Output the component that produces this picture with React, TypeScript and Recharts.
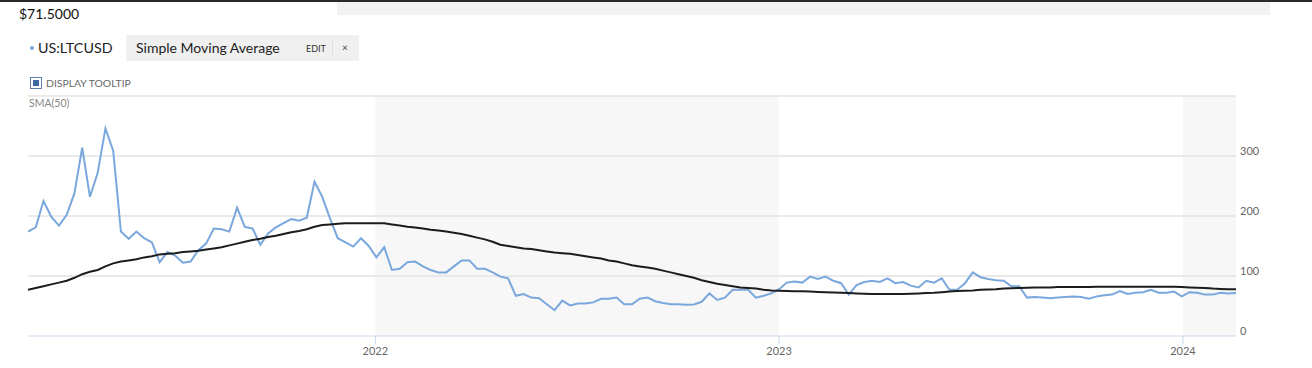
import { LineChart, Line, XAxis, YAxis, ReferenceArea, ReferenceLine } from 'recharts'

const FONT = 'Lato, "Open Sans", sans-serif'

// weekly closes, first week starting 2021-02-21
const START = Date.UTC(2021, 1, 21)
const WEEK = 7 * 24 * 3600 * 1000

const PRICE = [
  174, 181, 225, 199, 184, 202, 238, 314, 232, 272,
  346, 309, 174, 162, 174, 163, 156, 123, 140, 134,
  122, 124, 143, 154, 179, 178, 174, 214, 182, 179,
  152, 171, 181, 188, 195, 192, 197, 257, 232, 196,
  163, 156, 149, 163, 150, 131, 148, 110, 112, 123,
  124, 116, 110, 106, 106, 116, 126, 126, 112, 112,
  106, 99, 96, 67, 70, 64, 63, 53, 43, 59,
  51, 54, 54, 56, 62, 62, 64, 53, 53, 62,
  64, 58, 55, 53, 53, 52, 52.5, 57, 71, 60,
  64, 77, 77, 77, 64, 67, 71, 78, 89, 91,
  89, 99, 95, 99, 92, 88, 69, 85, 90, 92,
  90, 96, 88, 90, 84, 81, 92, 89, 96, 77,
  77, 88, 106, 98, 95, 93, 92, 83, 83, 64,
  65, 64, 63, 64, 65, 66, 65, 62, 66, 68,
  69, 75, 70, 72, 73, 77, 72, 72, 74, 66,
  73, 72, 69, 69, 72, 71, 71.5,
]

const SMA50 = [
  77, 80, 83, 86, 89, 92, 97, 103, 107, 110,
  116, 121, 124, 126, 128, 131, 133, 136, 137, 138,
  140, 141, 142, 144, 146, 148, 151, 154, 157, 160,
  162, 165, 167, 170, 173, 175, 178, 182, 185, 186,
  187, 188, 188, 188, 188, 188, 188, 186, 184, 182,
  181, 179, 177, 176, 174, 172, 170, 167, 164, 161,
  157, 152, 150, 148, 146, 145, 143, 141, 139, 138,
  137, 135, 133, 131, 129, 126, 124, 121, 118, 116,
  114, 112, 109, 106, 103, 100, 97, 93, 90, 87,
  85, 83, 81, 80, 79, 77, 76, 75.5, 75, 74.5,
  74.5, 74, 73.5, 73, 72.5, 72, 71.5, 71, 70.5, 70,
  70, 70, 70, 70, 70.5, 71, 71.5, 72, 73, 74,
  75, 75.5, 76, 77, 77.5, 78, 79, 79.5, 80, 80.5,
  81, 81, 81, 81.5, 81.5, 81.5, 81.5, 81.5, 82, 82,
  82, 82, 82, 82, 82, 82, 82, 82, 82, 81.5,
  81, 80.5, 80, 79, 78.5, 78, 78,
]

const YEARS = [2022, 2023, 2024]
const Y_TICKS = [0, 100, 200, 300, 400]
const GRID_LINES = [100, 200, 300, 400]

const data = PRICE.map((p, i) => ({ t: START + i * WEEK, price: p, sma: SMA50[i] }))
const END = data[data.length - 1].t
const yearStart = (y: number) => Date.UTC(y, 0, 1)

const YTick = (props: any) => {
  const { x, y, payload } = props
  if (payload.value === 400) return null
  return (
    <text x={x} y={y - 1.5} fill="#666" fontSize={11} fontFamily={FONT} textAnchor="start">
      {payload.value}
    </text>
  )
}

export default function App() {
  return (
    <div style={{ position: 'absolute', left: 0, top: 0, width: 1312, height: 368, background: '#fff', fontFamily: FONT }}>
      <div style={{ position: 'absolute', left: 0, top: 0, width: 1312, height: 2, background: '#2a2a2a' }} />
      <div style={{ position: 'absolute', left: 337, top: 2, width: 933, height: 13, background: '#f2f2f2' }} />
      <div style={{ position: 'absolute', left: 19, top: 5, fontSize: 14, color: '#111', lineHeight: '18px' }}>$71.5000</div>

      {/* legend */}
      <div style={{ position: 'absolute', left: 30, top: 46, width: 4, height: 4, borderRadius: 2, background: '#7aa7dc' }} />
      <div style={{ position: 'absolute', left: 38, top: 39, fontSize: 14.3, color: '#222', lineHeight: '18px' }}>US:LTCUSD</div>
      <div style={{ position: 'absolute', left: 126, top: 35, width: 233, height: 26, background: '#f0f0f0' }}>
        <div style={{ position: 'absolute', left: 10, top: 4, fontSize: 14, color: '#222', lineHeight: '18px' }}>Simple Moving Average</div>
        <div style={{ position: 'absolute', left: 180, top: 8, fontSize: 9, color: '#333', lineHeight: '11px' }}>EDIT</div>
        <div style={{ position: 'absolute', left: 206, top: 6, width: 1, height: 14, background: '#ddd' }} />
        <div style={{ position: 'absolute', left: 216, top: 6, fontSize: 10, color: '#444', lineHeight: '12px' }}>×</div>
      </div>

      {/* tooltip toggle */}
      <div style={{ position: 'absolute', left: 30, top: 77, width: 10, height: 10, border: '1px solid #5f7fa6', background: '#fff' }}>
        <div style={{ position: 'absolute', left: 2, top: 2, width: 6, height: 6, background: '#3c6aa3' }} />
      </div>
      <div style={{ position: 'absolute', left: 46, top: 77, fontSize: 10.4, color: '#666', lineHeight: '12px' }}>DISPLAY TOOLTIP</div>

      <div style={{ position: 'absolute', left: 0, top: 0 }}>
        <LineChart width={1312} height={368} data={data} margin={{ top: 96, right: 0, bottom: 0, left: 28 }}>
          <XAxis
            type="number"
            dataKey="t"
            domain={[START, END]}
            ticks={YEARS.map(yearStart)}
            tickFormatter={(v: number) => String(new Date(v).getUTCFullYear())}
            height={32}
            stroke="#ccd6eb"
            tickSize={8}
            tickMargin={3}
            tick={{ fill: '#666', fontSize: 11, fontFamily: FONT }}
            allowDataOverflow
          />
          <YAxis
            orientation="right"
            domain={[0, 400]}
            ticks={Y_TICKS}
            width={76}
            axisLine={false}
            tickLine={false}
            tickSize={0}
            tickMargin={4}
            tick={<YTick />}
          />
          <ReferenceArea x1={yearStart(2022)} x2={yearStart(2023)} fill="#f7f7f7" fillOpacity={1} stroke="none" />
          <ReferenceArea x1={yearStart(2024)} x2={END} fill="#f7f7f7" fillOpacity={1} stroke="none" />
          {GRID_LINES.map((v) => (
            <ReferenceLine key={v} y={v} stroke="#e3e3e3" strokeWidth={1.5} />
          ))}
          <Line dataKey="price" type="linear" stroke="#7aa7dc" strokeWidth={2} dot={false} isAnimationActive={false} />
          <Line dataKey="sma" type="linear" stroke="#1c1c1c" strokeWidth={2} dot={false} isAnimationActive={false} />
        </LineChart>
      </div>

      <div style={{ position: 'absolute', left: 29, top: 97, fontSize: 10.5, color: '#888', lineHeight: '12px' }}>SMA(50)</div>
    </div>
  )
}
